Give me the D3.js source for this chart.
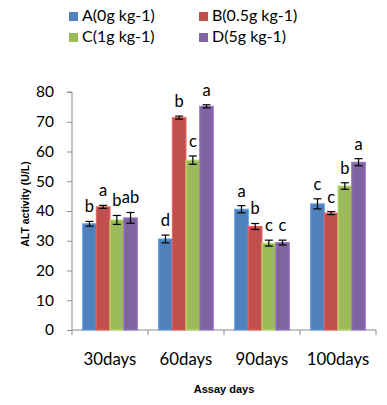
<!DOCTYPE html>
<html>
<head>
<meta charset="utf-8">
<script src="https://cdn.jsdelivr.net/npm/d3@7"></script>
<style>
  body { margin: 0; background: #fff; }
  text { font-family: Lato, "Open Sans", sans-serif; fill: #000; }
</style>
</head>
<body>
<div id="chart"></div>
<script>
// ALT activity by assay day and dose

const days = ["30days", "60days", "90days", "100days"];
const groups = ["A(0g kg-1)", "B(0.5g kg-1)", "C(1g kg-1)", "D(5g kg-1)"];
const colors = ["#4F81BD", "#C0504D", "#9BBB59", "#8064A2"];
const yTicks = [0, 10, 20, 30, 40, 50, 60, 70, 80];

// one array per group, in day order
const valA = [35.7, 30.6, 40.6, 42.4];
const valB = [41.4, 71.4, 34.8, 39.3];
const valC = [37.0, 57.1, 29.2, 48.4];
const valD = [37.7, 75.2, 29.4, 56.4];

const errA = [0.8, 1.3, 1.2, 1.7];
const errB = [0.5, 0.5, 1.0, 0.5];
const errC = [1.5, 1.4, 1.0, 1.1];
const errD = [1.8, 0.5, 0.8, 1.2];

const letA = ["b", "d", "a", "c"];
const letB = ["a", "b", "b", "c"];
const letC = ["b", "c", "c", "b"];
const letD = ["ab", "a", "c", "a"];

const vals = [valA, valB, valC, valD];
const errs = [errA, errB, errC, errD];
const lets = [letA, letB, letC, letD];

let data = [];
days.forEach((day, i) => {
  groups.forEach((g, j) => {
    data.push({ day: day, group: g, gi: j, value: vals[j][i], err: errs[j][i], letter: lets[j][i] });
  });
});

let width = 387,
  height = 405,
  margin = ({ top: 92, right: 11, bottom: 75, left: 72 });

const svg = d3.select("#chart")
  .append("svg")
  .attr("width", width)
  .attr("height", height);

let x = d3.scaleBand()
  .domain(days)
  .range([margin.left, width - margin.right])
  .paddingInner(0.28)
  .paddingOuter(0.14);

let xi = d3.scaleBand()
  .domain(groups)
  .range([0, x.bandwidth()]);

let y = d3.scaleLinear()
  .domain([0, 80])
  .range([height - margin.bottom, margin.top]);

// y axis
const yAxis = svg.append("g")
  .attr("transform", `translate(${margin.left},0)`)
  .call(d3.axisLeft(y).tickValues(yTicks).tickSize(5).tickPadding(13));
yAxis.selectAll("path, line").attr("stroke", "#8c8c8c");
yAxis.selectAll("text").style("font-size", "15.5px");
yAxis.select(".domain").attr("d", `M-5,${y(80)}H0V${y(0)}`);

// x axis with ticks between categories
const xAxis = svg.append("g")
  .attr("transform", `translate(0,${y(0)})`);
xAxis.append("line")
  .attr("x1", margin.left).attr("x2", width - margin.right)
  .attr("stroke", "#8c8c8c");
xAxis.selectAll(".sep")
  .data(d3.range(days.length + 1))
  .join("line")
  .attr("x1", d => margin.left + d * (width - margin.left - margin.right) / days.length)
  .attr("x2", d => margin.left + d * (width - margin.left - margin.right) / days.length)
  .attr("y1", 0).attr("y2", 5)
  .attr("stroke", "#8c8c8c");
xAxis.selectAll(".lbl")
  .data(days)
  .join("text")
  .attr("x", d => x(d) + x.bandwidth() / 2)
  .attr("y", 35)
  .attr("text-anchor", "middle")
  .style("font-size", "16.8px")
  .text(d => d);

// bars
svg.append("g")
  .selectAll("rect")
  .data(data)
  .join("rect")
  .attr("x", d => x(d.day) + xi(d.group))
  .attr("y", d => y(d.value))
  .attr("width", xi.bandwidth())
  .attr("height", d => y(0) - y(d.value))
  .attr("fill", d => colors[d.gi])
  .attr("stroke", d => d3.color(colors[d.gi]).brighter(0.6))
  .attr("stroke-width", 1);

// error bars
const eb = svg.append("g").attr("stroke", "#000").attr("stroke-width", 1.2);
data.forEach(d => {
  let cx = x(d.day) + xi(d.group) + xi.bandwidth() / 2;
  eb.append("line").attr("x1", cx).attr("x2", cx)
    .attr("y1", y(d.value - d.err)).attr("y2", y(d.value + d.err));
  eb.append("line").attr("x1", cx - 4).attr("x2", cx + 4)
    .attr("y1", y(d.value + d.err)).attr("y2", y(d.value + d.err));
  eb.append("line").attr("x1", cx - 4).attr("x2", cx + 4)
    .attr("y1", y(d.value - d.err)).attr("y2", y(d.value - d.err));
});

// significance letters
svg.append("g")
  .selectAll("text")
  .data(data)
  .join("text")
  .attr("x", d => x(d.day) + xi(d.group) + xi.bandwidth() / 2)
  .attr("y", d => y(d.value + d.err) - 9)
  .attr("text-anchor", "middle")
  .style("font-size", "16.5px")
  .text(d => d.letter);

// legend
const legend = svg.append("g");
groups.forEach((g, j) => {
  let lx = j % 2 === 0 ? 69 : 199,
    ly = j < 2 ? 12 : 33;
  legend.append("rect")
    .attr("x", lx).attr("y", ly)
    .attr("width", 9).attr("height", 9)
    .attr("fill", colors[j]);
  legend.append("text")
    .attr("x", lx + 13).attr("y", ly + 9)
    .style("font-size", "16px")
    .text(g);
});

// axis titles
svg.append("text")
  .attr("text-anchor", "middle")
  .attr("x", (margin.left + width - margin.right) / 2)
  .attr("y", 393)
  .style("font-size", "11px")
  .style("font-weight", "bold")
  .style("font-family", "'Liberation Sans', Arial, sans-serif")
  .text("Assay days");

svg.append("text")
  .attr("text-anchor", "middle")
  .attr("transform", "translate(29,204) rotate(-90)")
  .style("font-size", "10.5px")
  .style("font-weight", "bold")
  .style("font-family", "'Liberation Sans', Arial, sans-serif")
  .text("ALT activity (U/L)");
</script>
</body>
</html>
